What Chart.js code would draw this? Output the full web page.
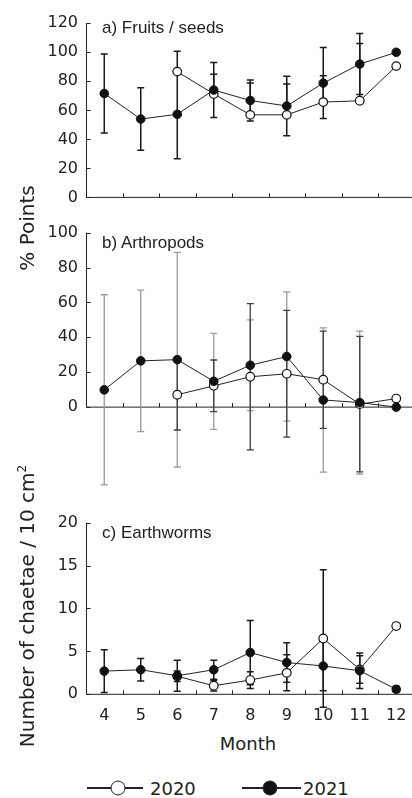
<!DOCTYPE html>
<html lang="en">
<head>
<meta charset="utf-8">
<script src="https://cdn.jsdelivr.net/npm/chart.js@4.4.1/dist/chart.umd.min.js"></script>
<style>
  html, body { margin: 0; padding: 0; background: #fff; overflow: hidden; }
  body { width: 412px; height: 798px; position: relative; font-family: "DejaVu Sans", sans-serif; color: #222; }
  canvas { position: absolute; left: 0; }
  .rotulo { position: absolute; white-space: nowrap; font-size: 20px; transform: translate(-50%, -50%) rotate(-90deg); }
  .rotulo sup { font-size: 12px; }
  .panel { position: absolute; left: 102px; font-family: "Liberation Sans", Arial, sans-serif; font-size: 17px; transform: translateY(-50%); white-space: nowrap; }
  .mes { position: absolute; left: 248px; top: 743px; font-size: 18px; transform: translate(-50%, -50%); }
  .linea { position: absolute; height: 1.6px; background: #222; }
  .circulo { position: absolute; width: 13px; height: 13px; border: 1.6px solid #222; border-radius: 50%; transform: translate(-50%, -50%); }
  .anio { position: absolute; font-size: 18px; transform: translateY(-50%); }
</style>
</head>
<body>
<canvas id="graficoFrutos" width="420" height="215" style="top:0"></canvas>
<canvas id="graficoArtropodos" width="420" height="290" style="top:215px"></canvas>
<canvas id="graficoLombrices" width="420" height="225" style="top:505px"></canvas>

<div class="panel" style="top:28px">a) Fruits / seeds</div>
<div class="panel" style="top:243px">b) Arthropods</div>
<div class="panel" style="top:533px">c) Earthworms</div>

<div class="rotulo" style="left:27px; top:228px">% Points</div>
<div class="rotulo" style="left:27px; top:606px">Number of chaetae / 10 cm<sup>2</sup></div>
<div class="mes">Month</div>

<div class="linea" style="left:87px; top:787px; width:56px"></div>
<div class="circulo" style="left:118px; top:788px; background:#fff"></div>
<div class="anio" style="left:150px; top:788px">2020</div>
<div class="linea" style="left:242px; top:787px; width:59px"></div>
<div class="circulo" style="left:270px; top:788px; background:#111"></div>
<div class="anio" style="left:303px; top:788px">2021</div>

<script>
const meses = ['4', '5', '6', '7', '8', '9', '10', '11', '12']

// a) frutos / semillas (% puntos)
const frutos2020 = [null, null, 86.7, 71.3, 56.9, 56.9, 65.7, 66.6, 90.5]
const frutos2021 = [71.6, 54, 57.3, 74, 66.8, 63, 78.8, 91.9, 100]
const errFrutos2020 = [null, null, 14.1, 13.6, 21.9, 21.2, 18.1, 39.4, null]
const errFrutos2021 = [27.2, 21.5, 30.6, 19, 14.2, 20.5, 24.5, 21, null]

// b) artropodos (% puntos)
const artro2020 = [null, null, 7.1, 12.2, 17.4, 19.1, 15.7, 1.7, 4.9]
const artro2021 = [9.9, 26.5, 27.2, 14.8, 24, 29, 4.1, 2.6, 0]
const errArtro2020 = [null, null, 20.2, 14.8, 41.9, 36.3, 27.9, 38.8, null]
const errArtro2021 = [54.5, 40.5, 61.5, 27.5, 26, 37, 41.3, 41, null]

// c) lombrices (quetas / 10 cm2)
const lombrices2020 = [null, null, 2.1, 1.0, 1.66, 2.5, 6.5, 2.9, 7.95]
const lombrices2021 = [2.7, 2.86, 2.16, 2.86, 4.86, 3.7, 3.3, 2.74, 0.58]
const errLombrices2020 = [null, null, 0.6, 0.62, 0.97, 2.1, 8, 1.6, null]
const errLombrices2021 = [2.5, 1.32, 1.8, 1.12, 3.75, 2.3, 2.9, 2.06, 0.35]

const ticksFrutos = [0, 20, 40, 60, 80, 100, 120]
const ticksArtro = [0, 20, 40, 60, 80, 100]
const ticksLombrices = [0, 5, 10, 15, 20]

// ejes en L con marcas hacia adentro, y sólo hasta el 0
const ejes = {
  id: 'ejes',
  beforeDatasetsDraw(chart) {
    const { ctx, chartArea } = chart
    const x = chart.scales.x
    const y = chart.scales.y
    const valores = y.ticks.map(t => t.value)
    const y0 = y.getPixelForValue(0)
    const yTope = y.getPixelForValue(valores[valores.length - 1])
    const izq = chartArea.left + 0.5

    ctx.save()
    ctx.strokeStyle = '#222'
    ctx.lineWidth = 1
    ctx.beginPath()
    ctx.moveTo(izq, yTope)
    ctx.lineTo(izq, y0)
    ctx.moveTo(chartArea.left, y0)
    ctx.lineTo(chartArea.right, y0)
    valores.forEach(v => {
      const p = Math.round(y.getPixelForValue(v)) + 0.5
      ctx.moveTo(izq, p)
      ctx.lineTo(izq + 4, p)
    })
    for (let i = 0; i < meses.length - 1; i++) {
      const px = Math.round((x.getPixelForValue(i) + x.getPixelForValue(i + 1)) / 2) + 0.5
      ctx.moveTo(px, y0)
      ctx.lineTo(px, y0 - 4)
    }
    ctx.stroke()
    ctx.restore()
  }
}

const barrasError = {
  id: 'barrasError',
  beforeDatasetsDraw(chart) {
    const { ctx } = chart
    const y = chart.scales.y
    chart.data.datasets.forEach((ds, i) => {
      const meta = chart.getDatasetMeta(i)
      ctx.save()
      ctx.strokeStyle = ds.colorError
      ctx.lineWidth = ds.anchoError
      ds.errores.forEach((e, j) => {
        const v = ds.data[j]
        if (e == null || v == null) return
        const px = meta.data[j].x
        const arriba = y.getPixelForValue(v + e)
        const abajo = ds.soloArriba ? y.getPixelForValue(v) : y.getPixelForValue(v - e)
        ctx.beginPath()
        ctx.moveTo(px, arriba)
        ctx.lineTo(px, abajo)
        ctx.moveTo(px - 3.5, arriba)
        ctx.lineTo(px + 3.5, arriba)
        if (!ds.soloArriba) {
          ctx.moveTo(px - 3.5, abajo)
          ctx.lineTo(px + 3.5, abajo)
        }
        ctx.stroke()
      })
      ctx.restore()
    })
  }
}

const fuenteTicks = { family: 'DejaVu Sans', size: 16 }

function crearPanel(id, cfg) {
  const ctx = document.getElementById(id).getContext('2d')
  return new Chart(ctx, {
    type: 'line',
    data: {
      labels: meses,
      datasets: [
        {
          label: '2021',
          data: cfg.serie2021,
          errores: cfg.err2021,
          colorError: cfg.color2021,
          anchoError: cfg.ancho,
          soloArriba: false,
          borderColor: '#222',
          borderWidth: 1,
          pointRadius: 4.3,
          pointBorderWidth: 1,
          pointBorderColor: '#111',
          pointBackgroundColor: '#111',
          clip: false,
          order: 0
        },
        {
          label: '2020',
          data: cfg.serie2020,
          errores: cfg.err2020,
          colorError: cfg.color2020,
          anchoError: cfg.ancho,
          soloArriba: cfg.soloArriba2020,
          borderColor: '#222',
          borderWidth: 1,
          pointRadius: 4.3,
          pointBorderWidth: 1.2,
          pointBorderColor: '#111',
          pointBackgroundColor: '#fff',
          clip: false,
          order: 1
        }
      ]
    },
    options: {
      responsive: false,
      animation: false,
      events: [],
      layout: { padding: cfg.padding },
      plugins: {
        legend: { display: false },
        tooltip: { enabled: false }
      },
      scales: {
        x: {
          type: 'category',
          offset: true,
          display: cfg.mostrarMeses,
          border: { display: false },
          grid: { display: false, drawTicks: false },
          ticks: { padding: 12, color: '#222', font: fuenteTicks, maxRotation: 0, autoSkip: false },
          afterFit: s => { s.height = cfg.altoX }
        },
        y: {
          min: cfg.min,
          max: cfg.max,
          border: { display: false },
          grid: { display: false, drawTicks: false },
          ticks: { padding: 8, color: '#222', font: fuenteTicks },
          afterBuildTicks: s => { s.ticks = cfg.ticks.map(v => ({ value: v })) },
          afterFit: s => { s.width = 86 }
        }
      }
    },
    plugins: [ejes, barrasError]
  })
}

crearPanel('graficoFrutos', {
  serie2020: frutos2020, serie2021: frutos2021,
  err2020: errFrutos2020, err2021: errFrutos2021,
  color2020: '#1a1a1a', color2021: '#1a1a1a', ancho: 1.5,
  soloArriba2020: true,
  ticks: ticksFrutos, min: 0, max: 120,
  mostrarMeses: false, altoX: 0,
  padding: { top: 23.3, bottom: 15, left: 0, right: 4.7 }
})

crearPanel('graficoArtropodos', {
  serie2020: artro2020, serie2021: artro2021,
  err2020: errArtro2020, err2021: errArtro2021,
  color2020: '#3c3c3c', color2021: '#9a9a9a', ancho: 1.3,
  soloArriba2020: false,
  ticks: ticksArtro, min: -46, max: 100,
  mostrarMeses: false, altoX: 0,
  padding: { top: 15.7, bottom: 14.4, left: 0, right: 4.7 }
})

crearPanel('graficoLombrices', {
  serie2020: lombrices2020, serie2021: lombrices2021,
  err2020: errLombrices2020, err2021: errLombrices2021,
  color2020: '#1a1a1a', color2021: '#1a1a1a', ancho: 1.5,
  soloArriba2020: false,
  ticks: ticksLombrices, min: 0, max: 20,
  mostrarMeses: true, altoX: 35.7,
  padding: { top: 16.7, bottom: 0, left: 0, right: 4.7 }
})
</script>
</body>
</html>
